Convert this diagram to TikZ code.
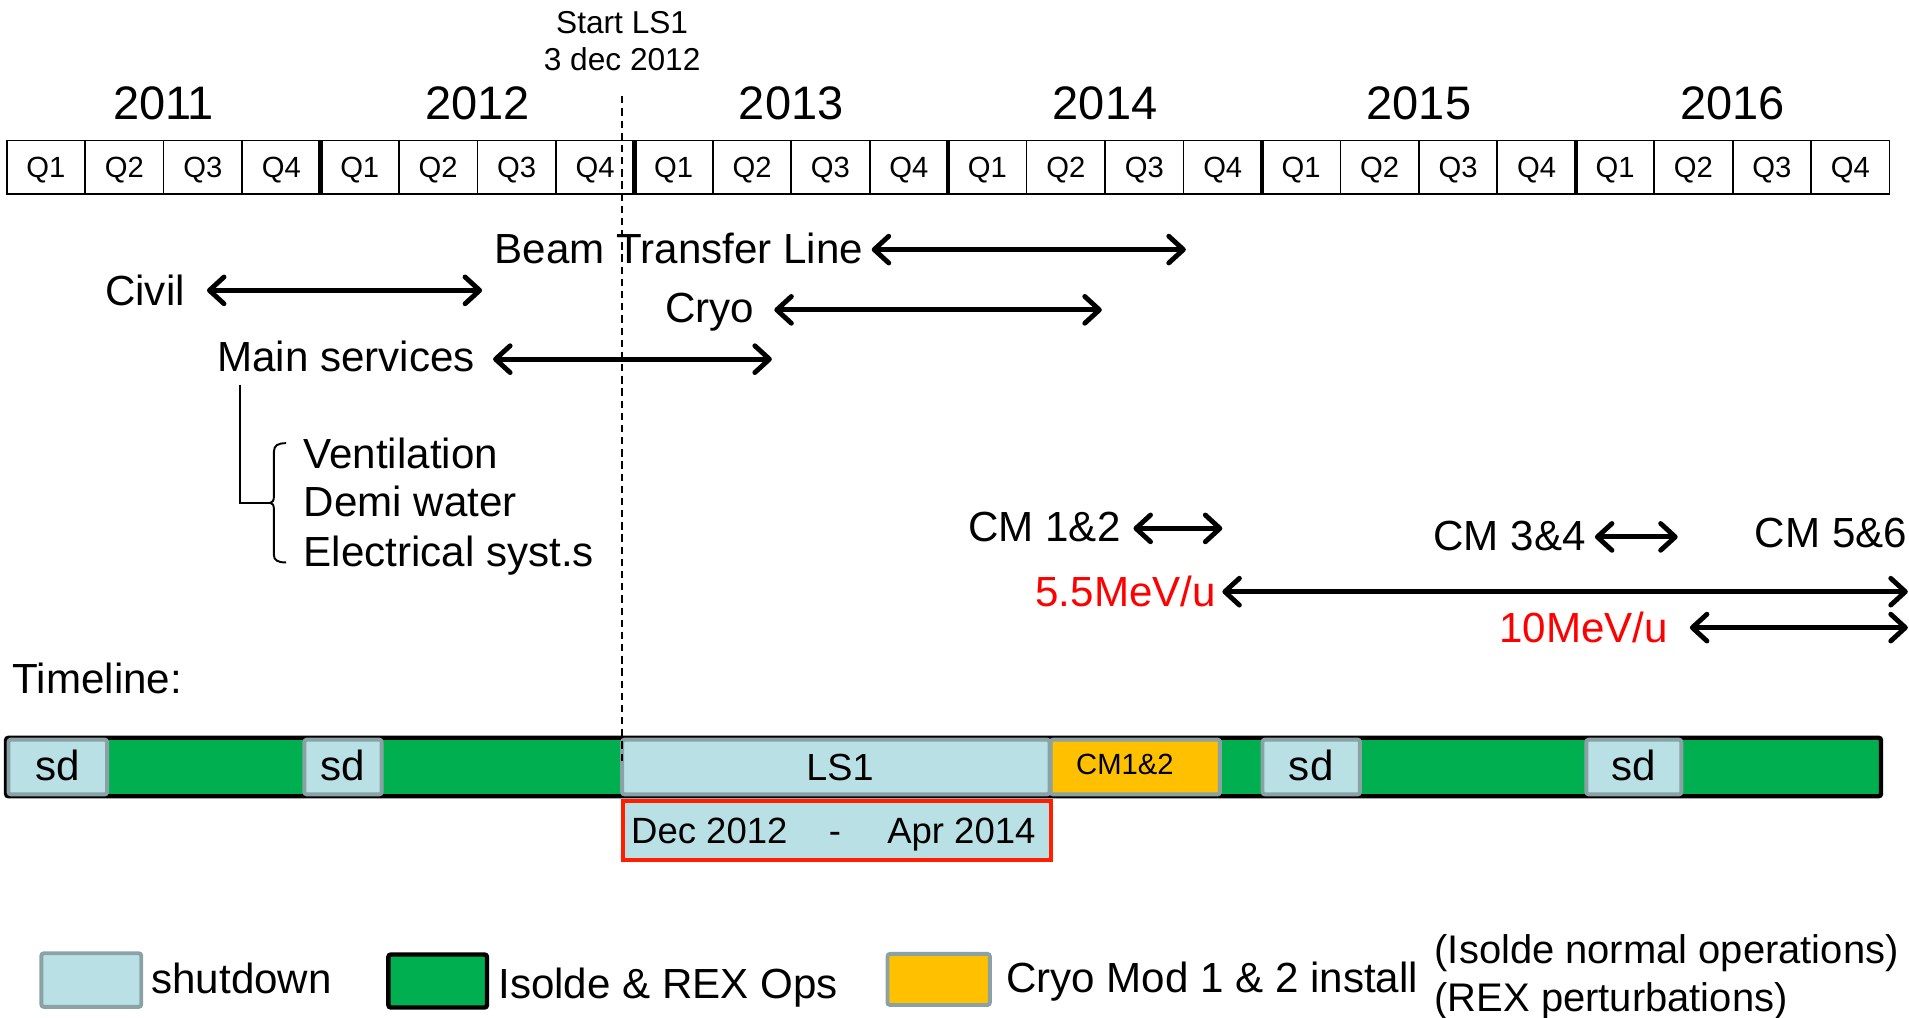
\documentclass[tikz,border=0pt]{standalone}
\usepackage{fontspec}
\setmainfont{Liberation Sans}
\usetikzlibrary{arrows.meta}
\definecolor{sdblue}{RGB}{185,224,228}
\definecolor{sdgrey}{RGB}{138,162,165}
\definecolor{opsgreen}{RGB}{0,176,80}
\definecolor{cmorange}{RGB}{255,192,0}
\definecolor{lsred}{RGB}{255,30,0}
\newcommand\fsLab{\fontsize{17.3pt}{21pt}\selectfont}
\newcommand\fsYear{\fontsize{19.3pt}{23pt}\selectfont}
\newcommand\fsQtr{\fontsize{12pt}{14pt}\selectfont}
\newcommand\fsStart{\fontsize{13pt}{15pt}\selectfont}
\newcommand\fsPar{\fontsize{16.4pt}{19pt}\selectfont}
\begin{document}
\begin{tikzpicture}[x=0.5pt,y=-0.5pt,
  lbl/.style={inner sep=0pt, anchor=base west, font=\fsLab},
  redlbl/.style={lbl, text=red},
  span/.style={line width=2pt, line cap=round,
    {Straight Barb[length=6pt,width=11pt,round]}-{Straight Barb[length=6pt,width=11pt,round]}},
  qcell/.style={draw, line width=0.7pt, minimum width=32.22pt, minimum height=22pt,
    inner sep=0pt, font=\fsQtr, text height=8.6pt, text depth=0pt},
  sdbox/.style={draw=sdgrey, fill=sdblue, line width=1.6pt, rounded corners=1pt},
  cmbox/.style={draw=sdgrey, fill=cmorange, line width=1.6pt, rounded corners=1pt},
  opsbox/.style={draw=black, fill=opsgreen, line width=1.8pt, rounded corners=1pt},
  boxtxt/.style={inner sep=0pt, anchor=base},
]
\useasboundingbox (0,0) rectangle (1568,836);

% header
\node[inner sep=0pt, anchor=base, font=\fsStart] (start1) at (511,27.5) {Start LS1};
\node[inner sep=0pt, anchor=base, font=\fsStart] (start2) at (511,58) {3 dec 2012};
\foreach \yr [count=\k from 0] in {2011,2012,2013,2014,2015,2016}{
  \node[inner sep=0pt, anchor=base, font=\fsYear] (y\yr) at ({5.5+64.44*(4*\k+2)},97.8) {\yr};
}
\foreach \i in {0,...,23}{
  \pgfmathtruncatemacro\qq{mod(\i,4)+1}
  \node[qcell] (q\i) at ({5.5+64.44*(\i+0.5)},137.5) {Q\qq};
}
\foreach \k in {1,...,5}{
  \draw[line width=1.8pt] ({5.5+64.44*4*\k},115) -- ({5.5+64.44*4*\k},160);
}

% activities
\node[lbl] (btl) at (406,216.5) {Beam Transfer Line};
\coordinate (btlA) at (716,205); \coordinate (btlB) at (974,205);
\draw[span] (btlA) -- (btlB);

\node[lbl] (civil) at (86,251) {Civil};
\coordinate (civA) at (170,238.5); \coordinate (civB) at (396,238.5);
\draw[span] (civA) -- (civB);

\node[lbl] (cryo) at (546,265) {Cryo};
\coordinate (cryA) at (636,254.5); \coordinate (cryB) at (905,254.5);
\draw[span] (cryA) -- (cryB);

\node[lbl] (ms) at (178,305.5) {Main services};
\coordinate (msA) at (405,295); \coordinate (msB) at (634,295);
\draw[span] (msA) -- (msB);

\node[lbl] (vent) at (249,384.5) {Ventilation};
\node[lbl] (demi) at (249,424.5) {Demi water};
\node[lbl] (elec) at (249,465) {Electrical syst.s};
\coordinate (msdrop) at (197,316);
\coordinate (bracetip) at (222,413);
\draw[line width=0.8pt] (msdrop) |- (bracetip);
\draw[line width=0.8pt] (235,364) .. controls (228,364) and (225,366) .. (225,371)
  -- (225,407) .. controls (225,411) and (224,413) .. (bracetip)
  .. controls (224,413) and (225,415) .. (225,419)
  -- (225,456) .. controls (225,460) and (228,462) .. (235,462);

\node[lbl] (cm12) at (795,444.5) {CM 1\&2};
\coordinate (cm12A) at (931,434); \coordinate (cm12B) at (1004,434);
\draw[span] (cm12A) -- (cm12B);

\node[lbl] (cm34) at (1177,452.5) {CM 3\&4};
\coordinate (cm34A) at (1310,441); \coordinate (cm34B) at (1378,441);
\draw[span] (cm34A) -- (cm34B);

\node[lbl] (cm56) at (1441,449.5) {CM 5\&6};

\node[redlbl, anchor=base east] (mev55) at (999,498.5) {5.5MeV/u};
\coordinate (mevA) at (1004,486); \coordinate (mevB) at (1567,486);
\draw[span] (mevA) -- (mevB);

\node[redlbl] (mev10) at (1231,528) {10MeV/u};
\coordinate (tenA) at (1388,515.5); \coordinate (tenB) at (1567,515.5);
\draw[span] (tenA) -- (tenB);

\node[lbl] (tl) at (10,570) {Timeline:};

% timeline bar
\draw[opsbox] (5,606) rectangle (1545,654);
\draw[sdbox] (7,607.5) rectangle (88,652.5);
\draw[sdbox] (250,607.5) rectangle (313.5,652.5);
\draw[sdbox] (511,607.5) rectangle (862,652.5);
\draw[cmbox] (863,607.5) rectangle (1002,652.5);
\draw[sdbox] (1037,607.5) rectangle (1117,652.5);
\draw[sdbox] (1303,607.5) rectangle (1381,652.5);
\node[boxtxt, font=\fsLab] (sd1) at (47.5,641) {sd};
\node[boxtxt, font=\fsLab] (sd2) at (281.5,641) {sd};
\node[boxtxt, font=\fontsize{15.5pt}{18pt}\selectfont] (ls1) at (690,641) {LS1};
\node[boxtxt, font=\fontsize{12pt}{14pt}\selectfont] (cmb) at (924,636.5) {CM1\&2};
\node[boxtxt, font=\fsLab] (sd3) at (1077,641) {sd};
\node[boxtxt, font=\fsLab] (sd4) at (1342,641) {sd};

% LS1 start line
\coordinate (dashtop) at (511,79);
\coordinate (dashbot) at (511,626);
\draw[line width=0.6pt, dash pattern=on 3pt off 2pt] (dashtop) -- (dashbot);

% LS1 period box
\draw[draw=lsred, fill=sdblue, line width=1.6pt] (511.5,658) rectangle (863,706);
\node[inner sep=0pt, anchor=base west, font=\fontsize{15pt}{18pt}\selectfont] (period) at (518,693)
  {Dec 2012\hspace{17pt}-\hspace{19pt}Apr 2014};

% legend
\draw[sdbox] (34,783) rectangle (116,827);
\node[lbl] (lgsd) at (124,816) {shutdown};
\draw[opsbox] (319,784) rectangle (400,827.5);
\node[lbl] (lgops) at (409,820) {Isolde \& REX Ops};
\draw[cmbox] (729,783.5) rectangle (813,825.5);
\node[lbl] (lgcm) at (826,815) {Cryo Mod 1 \& 2 install};
\node[inner sep=0pt, anchor=base west, font=\fsPar] (par1) at (1178,791) {(Isolde normal operations)};
\node[inner sep=0pt, anchor=base west, font=\fsPar] (par2) at (1178,831) {(REX perturbations)};
\end{tikzpicture}
\end{document}
